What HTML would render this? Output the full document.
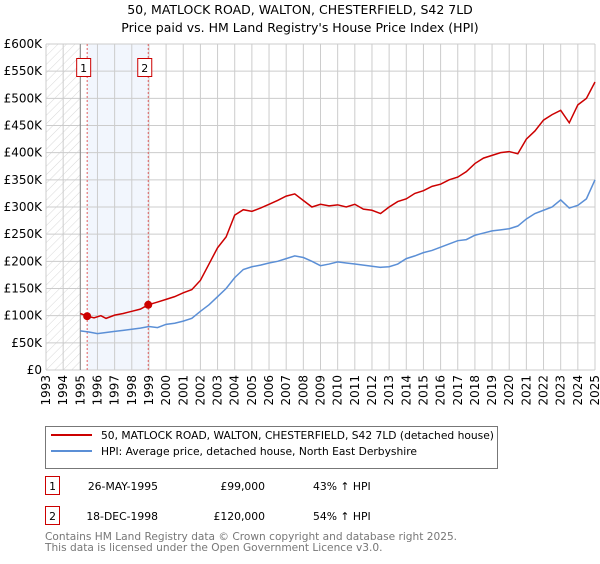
<!DOCTYPE html>
<html><head><meta charset="utf-8">
<style>
body{margin:0;background:#fff;font-family:"DejaVu Sans","Liberation Sans",sans-serif;}
svg text{font-family:"DejaVu Sans","Liberation Sans",sans-serif;}
</style></head>
<body>
<svg id="c" width="600" height="560" xmlns="http://www.w3.org/2000/svg">
<defs><pattern id="hatch" width="6" height="6" patternUnits="userSpaceOnUse" patternTransform="rotate(45)"><line x1="0" y1="0" x2="0" y2="6" stroke="#d8d8d8" stroke-width="1"/></pattern></defs>
<text x="300" y="14" text-anchor="middle" font-size="12.5" fill="#000">50, MATLOCK ROAD, WALTON, CHESTERFIELD, S42 7LD</text>
<text x="300" y="32" text-anchor="middle" font-size="12.5" fill="#000">Price paid vs. HM Land Registry's House Price Index (HPI)</text>
<g id="plot"></g>
<g>
<rect x="45.5" y="426.5" width="452" height="42" fill="#fff" stroke="#777"/>
<line x1="51" y1="435" x2="92" y2="435" stroke="#cc0000" stroke-width="2"/>
<text x="101" y="439" font-size="10.7">50, MATLOCK ROAD, WALTON, CHESTERFIELD, S42 7LD (detached house)</text>
<line x1="51" y1="451" x2="92" y2="451" stroke="#5b8fd6" stroke-width="2"/>
<text x="101" y="455" font-size="10.7">HPI: Average price, detached house, North East Derbyshire</text>
</g>
<g font-size="10.8">
<rect x="45.5" y="476.5" width="14" height="18" fill="#fff" stroke="#cc0000"/><text x="52.5" y="490" text-anchor="middle">1</text>
<text x="158" y="490" text-anchor="end">26-MAY-1995</text><text x="265" y="490" text-anchor="end">£99,000</text><text x="313" y="490">43% ↑ HPI</text>
<rect x="45.5" y="506.5" width="14" height="18" fill="#fff" stroke="#cc0000"/><text x="52.5" y="520" text-anchor="middle">2</text>
<text x="158" y="520" text-anchor="end">18-DEC-1998</text><text x="265" y="520" text-anchor="end">£120,000</text><text x="313" y="520">54% ↑ HPI</text>
</g>
<text x="45" y="540" font-size="10.6" fill="#777">Contains HM Land Registry data © Crown copyright and database right 2025.</text>
<text x="45" y="551" font-size="10.6" fill="#777">This data is licensed under the Open Government Licence v3.0.</text>
</svg>
<script>
const hpiYears=[1995,1995.5,1996,1996.5,1997,1997.5,1998,1998.5,1999,1999.5,2000,2000.5,2001,2001.5,2002,2002.5,2003,2003.5,2004,2004.5,2005,2005.5,2006,2006.5,2007,2007.5,2008,2008.5,2009,2009.5,2010,2010.5,2011,2011.5,2012,2012.5,2013,2013.5,2014,2014.5,2015,2015.5,2016,2016.5,2017,2017.5,2018,2018.5,2019,2019.5,2020,2020.5,2021,2021.5,2022,2022.5,2023,2023.5,2024,2024.5,2025];
const hpiValues=[72,70,67,69,71,73,75,77,80,78,84,86,90,95,108,120,135,150,170,185,190,193,197,200,205,210,207,200,192,195,199,197,195,193,191,189,190,195,205,210,216,220,226,232,238,240,248,252,256,258,260,265,278,288,294,300,313,298,303,315,350];
const priceYears=[1995,1995.4,1995.8,1996.2,1996.5,1997,1997.5,1998,1998.5,1998.96,1999.5,2000,2000.5,2001,2001.5,2002,2002.5,2003,2003.5,2004,2004.5,2005,2005.5,2006,2006.5,2007,2007.5,2008,2008.5,2009,2009.5,2010,2010.5,2011,2011.5,2012,2012.5,2013,2013.5,2014,2014.5,2015,2015.5,2016,2016.5,2017,2017.5,2018,2018.5,2019,2019.5,2020,2020.5,2021,2021.5,2022,2022.5,2023,2023.5,2024,2024.5,2025];
const priceValues=[104,99,96,100,95,101,104,108,112,120,125,130,135,142,148,165,195,225,245,285,295,292,298,305,312,320,324,312,300,305,302,304,300,305,296,294,288,300,310,315,325,330,338,342,350,355,365,380,390,395,400,402,398,425,440,460,470,478,455,488,500,530];
const sales=[[1995.4,99],[1998.96,120]];
const yTicks=[0,50,100,150,200,250,300,350,400,450,500,550,600];
const xTicks=[1993,1994,1995,1996,1997,1998,1999,2000,2001,2002,2003,2004,2005,2006,2007,2008,2009,2010,2011,2012,2013,2014,2015,2016,2017,2018,2019,2020,2021,2022,2023,2024,2025];
const L=46,R=595,T=44,B=370;
const X=y=>L+(y-1993)/(2025-1993)*(R-L);
const Y=v=>B-v/600*(B-T);
const ns="http://www.w3.org/2000/svg";
const g=document.getElementById('plot');
function mk(t,a){const e=document.createElementNS(ns,t);for(const k in a)e.setAttribute(k,a[k]);g.appendChild(e);return e;}
let e=mk('rect',{x:L,y:T,width:X(1995)-L,height:B-T,fill:'url(#hatch)'});

e=mk('rect',{x:X(sales[0][0]),y:T,width:X(sales[1][0])-X(sales[0][0]),height:B-T,fill:'#f2f6fd'});

yTicks.forEach(v=>{const l=mk('line',{x1:L,x2:R,y1:Y(v),y2:Y(v),stroke:'#ccc'});

const t=mk('text',{x:L-4,y:Y(v)+4,'text-anchor':'end','font-size':12});t.textContent=v===0?'£0':'£'+v+'K';
});
xTicks.forEach(v=>{const l=mk('line',{x1:X(v),x2:X(v),y1:T,y2:B,stroke:'#ccc'});

const t=mk('text',{transform:`translate(${X(v)+4},${B+5}) rotate(-90)`,'text-anchor':'end','font-size':12});t.textContent=v;
});
e=mk('line',{x1:X(1995),x2:X(1995),y1:T,y2:B,stroke:'#888'});

sales.forEach((s,i)=>{const l=mk('line',{x1:X(s[0]),x2:X(s[0]),y1:T,y2:B,stroke:'#e06060','stroke-dasharray':'2,2'});

const r=mk('rect',{x:X(s[0])-10.5,y:58.5,width:14,height:18,fill:'#fff',stroke:'#cc0000'});

const t=mk('text',{x:X(s[0])-3.5,y:72,'text-anchor':'middle','font-size':11});t.textContent=i+1;
});
e=mk('polyline',{points:hpiYears.map((y,i)=>X(y)+','+Y(hpiValues[i])).join(' '),fill:'none',stroke:'#5b8fd6','stroke-width':1.5});

e=mk('polyline',{points:priceYears.map((y,i)=>X(y)+','+Y(priceValues[i])).join(' '),fill:'none',stroke:'#cc0000','stroke-width':1.5});

sales.forEach(s=>{const c=mk('circle',{cx:X(s[0]),cy:Y(s[1]),r:4,fill:'#cc0000'});
});
</script>
</body></html>
